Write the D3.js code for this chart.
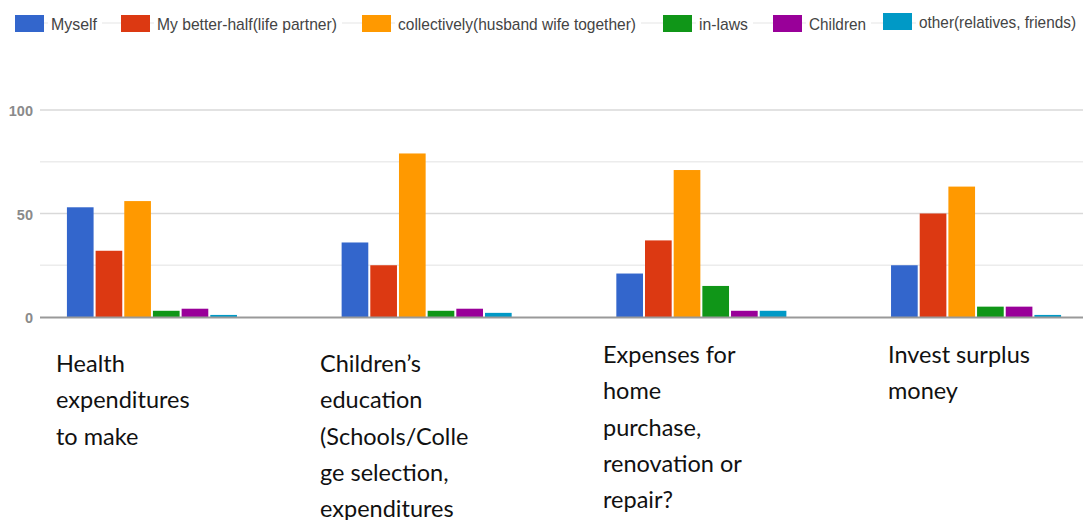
<!DOCTYPE html>
<html>
<head>
<meta charset="utf-8">
<script src="https://cdn.jsdelivr.net/npm/d3@7/dist/d3.min.js"></script>
<style>
  html, body { margin: 0; padding: 0; background: #fff; }
  svg { display: block; }
</style>
</head>
<body>
<svg id="chart" width="1083" height="520"></svg>
<script>
// ---- data ----
const categories = ["Health", "Children", "Home", "Invest"];
const categoryLines = [
  ["Health", "expenditures", "to make"],
  ["Children\u2019s", "education", "(Schools/Colle", "ge selection,", "expenditures"],
  ["Expenses for", "home", "purchase,", "renovation or", "repair?"],
  ["Invest surplus", "money"]
];
const seriesNames = ["Myself", "My better-half(life partner)", "collectively(husband wife together)", "in-laws", "Children", "other(relatives, friends)"];
const seriesColors = ["#3366cc", "#dc3912", "#ff9900", "#109618", "#990099", "#0099c6"];
const valMyself     = [53, 36, 21, 25];
const valPartner    = [32, 25, 37, 50];
const valCollective = [56, 79, 71, 63];
const valInLaws     = [3, 3, 15, 5];
const valChildren   = [4, 4, 3, 5];
const valOther      = [1, 2, 3, 1];
const seriesValues = [valMyself, valPartner, valCollective, valInLaws, valChildren, valOther];
const yTicks = [0, 25, 50, 75, 100];
const yLabelTicks = [0, 50, 100];

// ---- layout ----
const svg = d3.select("#chart");
const x0 = d3.scaleBand().domain(categories).range([40, 1088]).paddingInner(0.381).paddingOuter(0.098);
const x1 = d3.scaleBand().domain(d3.range(seriesNames.length)).range([0, x0.bandwidth()]).paddingInner(0.07);
const y = d3.scaleLinear().domain([0, 100]).range([317, 110]);

// gridlines
svg.append("g").selectAll("line").data(yTicks.filter(t => t !== 0)).join("line")
  .attr("x1", 40).attr("x2", 1083)
  .attr("y1", d => y(d)).attr("y2", d => y(d))
  .attr("stroke", d => d % 50 === 0 ? "#d9d9d9" : "#ececec")
  .attr("stroke-width", 1.5);

// y labels
const yAxis = d3.axisLeft(y).tickValues(yLabelTicks).tickSize(0).tickPadding(0);
const yg = svg.append("g").attr("transform", "translate(33,0)").call(yAxis);
yg.select(".domain").remove();
yg.selectAll("text")
  .attr("fill", "#8a8a8a")
  .attr("font-family", "Liberation Sans, Arial, sans-serif")
  .attr("font-size", 14.5)
  .attr("font-weight", "bold")
  .attr("dy", "0.4em");

// bars
const groups = svg.append("g").selectAll("g").data(categories).join("g")
  .attr("transform", d => `translate(${x0(d)},0)`);
groups.selectAll("rect")
  .data((c, ci) => seriesValues.map((vals, si) => ({ si, v: vals[ci] })))
  .join("rect")
  .attr("x", d => x1(d.si))
  .attr("width", x1.bandwidth())
  .attr("y", d => y(d.v))
  .attr("height", d => y(0) - y(d.v))
  .attr("fill", d => seriesColors[d.si]);

// baseline
svg.append("line")
  .attr("x1", 40).attr("x2", 1083)
  .attr("y1", y(0) + 0.5).attr("y2", y(0) + 0.5)
  .attr("stroke", "#999").attr("stroke-width", 2);

// legend
const legendSwatchX = [15, 121, 362, 663, 773, 883];
const legendTextW = [46, 180, 238, 49, 57, 157];
const leg = svg.append("g");
leg.append("line").attr("x1", 15).attr("x2", 1078).attr("y1", 23).attr("y2", 23)
  .attr("stroke", "#eeeeee").attr("stroke-width", 1.5);
seriesNames.forEach((name, i) => {
  const off = i === 5 ? -2 : 0;
  leg.append("rect").attr("x", legendSwatchX[i]).attr("y", 15 + off)
    .attr("width", 29).attr("height", 17).attr("fill", seriesColors[i]);
  leg.append("rect").attr("x", legendSwatchX[i] + 33).attr("y", 14 + off)
    .attr("width", Math.min(legendTextW[i] + 8, 1080 - legendSwatchX[i] - 33)).attr("height", 19).attr("fill", "#fff");
  leg.append("text").attr("x", legendSwatchX[i] + 36).attr("y", 30 + off)
    .attr("font-family", "Liberation Sans, Arial, sans-serif")
    .attr("font-size", 17)
    .attr("fill", "#444")
    .attr("textLength", legendTextW[i])
    .attr("lengthAdjust", "spacingAndGlyphs")
    .text(name);
});

// category labels
const labelX = [56, 320, 603, 888];
const labelTop = [372, 372, 363, 363];
categoryLines.forEach((lines, ci) => {
  const t = svg.append("text")
    .attr("font-family", "Lato, 'Open Sans', sans-serif")
    .attr("font-size", 23.5)
    .attr("fill", "#111");
  lines.forEach((ln, li) => {
    t.append("tspan").attr("x", labelX[ci]).attr("y", labelTop[ci] + li * 36.3).text(ln);
  });
});
</script>
</body>
</html>
